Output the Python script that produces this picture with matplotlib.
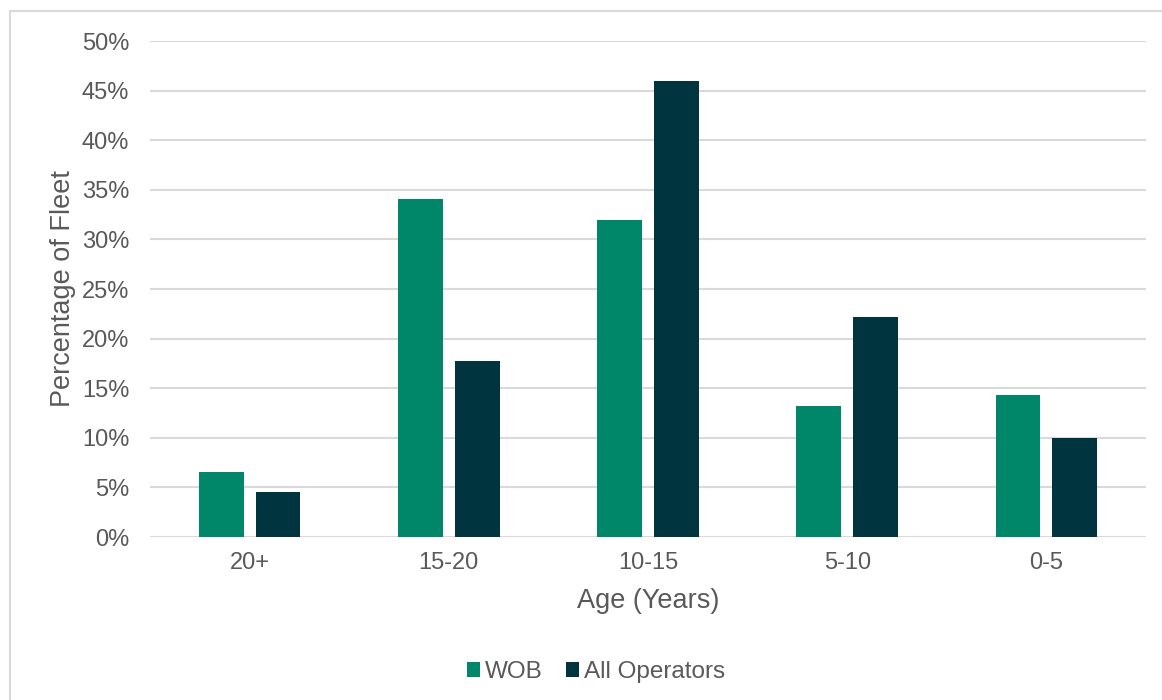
import matplotlib
matplotlib.use("Agg")
import matplotlib.pyplot as plt
import numpy as np
from matplotlib.patches import Rectangle
from matplotlib.ticker import FuncFormatter

plt.rcParams["font.family"] = ["Liberation Sans", "DejaVu Sans"]

# Fleet age distribution
age_groups = ["20+", "15-20", "10-15", "5-10", "0-5"]
wob = [6.6, 34.1, 32.0, 13.2, 14.3]
all_operators = [4.5, 17.7, 46.0, 22.2, 10.0]
series_names = ["WOB", "All Operators"]
y_ticks = [0, 5, 10, 15, 20, 25, 30, 35, 40, 45, 50]

GREEN = "#00876A"
DARK = "#00343F"
TEXT = "#595959"
GRID = "#D9D9D9"

W, H = 1162, 700
fig = plt.figure(figsize=(W / 100, H / 100), dpi=100)

# light outer frame of the chart area
fig.patches.append(Rectangle((10 / W, -0.1), 1.2, 1 - 11 / H + 0.1,
                             transform=fig.transFigure, fill=False,
                             edgecolor=GRID, linewidth=1.5))

ax = fig.add_axes([150 / W, 1 - 537 / H, (1146 - 150) / W, (537 - 41) / H])
x = np.arange(len(age_groups))
bw = 0.225
ax.bar(x - 0.143, wob, width=bw, color=GREEN, label=series_names[0], zorder=3)
ax.bar(x + 0.143, all_operators, width=bw, color=DARK, label=series_names[1], zorder=3)

ax.set_xlim(-0.5, len(age_groups) - 0.5)
ax.set_ylim(0, 50)
ax.set_yticks(y_ticks)
ax.yaxis.set_major_formatter(FuncFormatter(lambda v, p: f"{v:.0f}%"))
ax.set_xticks(x)
ax.set_xticklabels(age_groups)
ax.grid(axis="y", color=GRID, linewidth=1.5, zorder=0)
for s in ax.spines.values():
    s.set_visible(False)
ax.tick_params(axis="both", length=0, labelsize=17, labelcolor=TEXT)
ax.tick_params(axis="y", pad=15)
ax.tick_params(axis="x", pad=11)

ax.set_xlabel("Age (Years)", fontsize=19.5, color=TEXT, labelpad=10)
ax.set_ylabel("Percentage of Fleet", fontsize=19.5, color=TEXT, labelpad=4)

leg = fig.legend(loc="center", bbox_to_anchor=(596 / W, 1 - 672 / H), ncol=2,
                 frameon=False, fontsize=17.5, labelcolor=TEXT,
                 handlelength=0.55, handleheight=0.55, handletextpad=0.2,
                 columnspacing=0.95)

fig.savefig("out.png", dpi=100)
